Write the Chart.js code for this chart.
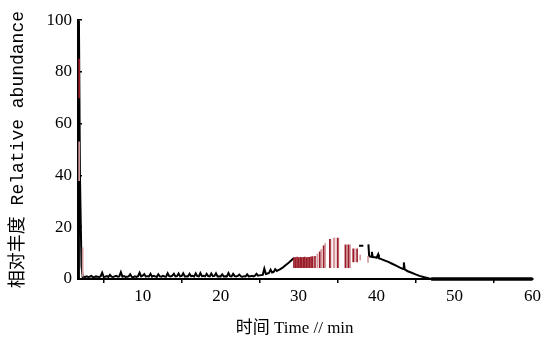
<!DOCTYPE html>
<html>
<head>
<meta charset="utf-8">
<script src="https://cdn.jsdelivr.net/npm/chart.js@4.4.0/dist/chart.umd.min.js"></script>
<style>
body{margin:0;background:#fff;}
#wrap{width:544px;height:339px;position:relative;}
</style>
</head>
<body>
<div id="wrap"><canvas id="chart1"></canvas></div>
<script>
//axis ticks//
const xTicks=[10,20,30,40,50,60];
const yTicks=[0,20,40,60,80,100];

//black TIC trace (null = gap)//
const traceTime=[1.78,1.82,1.95,2.05,2.15,2.3,
  2.4,2.6,2.8,3.0,3.2,3.4,3.6,3.8,4.0,4.2,4.4,4.6,4.8,5.0,5.2,5.4,5.6,5.8,6.0,6.2,6.4,6.6,6.8,7.0,
  7.2,7.4,7.6,7.8,8.0,8.2,8.4,8.6,8.8,9.0,9.2,9.4,9.6,9.8,10.0,10.2,10.4,10.6,10.8,11.0,
  11.2,11.4,11.6,11.8,12.0,12.2,12.4,12.6,12.8,13.0,13.2,13.4,13.6,13.8,14.0,14.2,14.4,14.6,14.8,15.0,
  15.2,15.4,15.6,15.8,16.0,16.2,16.4,16.6,16.8,17.0,17.2,17.4,17.6,17.8,18.0,18.2,18.4,18.6,18.8,19.0,
  19.2,19.4,19.6,19.8,20.0,20.2,20.4,20.6,20.8,21.0,21.2,21.4,21.6,21.8,22.0,22.2,22.4,22.6,22.8,23.0,
  23.2,23.4,23.6,23.8,24.0,24.2,24.4,24.6,24.8,25.0,25.2,25.4,25.6,25.8,26.0,26.2,26.4,26.6,26.8,27.0,
  27.2,27.4,27.6,27.8,28.0,28.2,28.4,28.6,28.8,29.0,29.2,29.4,29.5,
  37.75,38.3,38.5,
  38.95,39.05,39.3,39.4,39.5,39.8,40.0,40.2,40.3,40.6,41.0,41.5,42.0,42.5,43.0,43.4,43.5,43.6,44.0,44.5,45.0,45.5,46.0,46.5,47.0];
const traceAbund=[0,100,40,22,5,0.8,
  0.9,0.7,1.0,0.8,0.9,1.2,0.8,0.7,1.0,0.9,0.8,1.0,2.4,0.8,0.9,1.1,0.8,1.6,0.9,0.8,1.0,1.2,0.9,1.0,
  2.6,0.9,1.1,0.8,0.9,1.0,1.8,0.8,0.7,1.0,0.8,1.1,2.4,1.0,1.3,1.9,0.9,1.1,1.0,2.0,
  0.9,1.2,1.0,0.8,1.8,1.0,0.9,1.2,1.0,0.9,2.2,1.1,1.0,1.3,2.0,1.0,1.1,2.1,1.0,1.2,
  2.2,1.0,1.1,1.0,2.0,1.1,1.2,1.0,2.2,1.1,1.0,2.3,1.1,1.2,1.0,2.0,1.1,1.0,2.1,1.1,
  1.2,2.2,1.0,1.1,1.0,1.8,1.0,1.1,1.0,2.3,1.1,1.0,2.0,1.1,1.0,1.2,1.7,1.0,0.9,1.1,
  1.0,1.8,1.0,1.1,1.2,1.0,1.3,2.0,1.3,1.4,1.5,1.6,4.0,1.9,2.1,2.3,3.6,2.5,2.7,3.8,
  3.1,3.4,3.7,4.1,4.5,5.0,5.5,6.0,6.5,7.0,7.6,8.0,null,
  12.8,12.8,null,
  13.4,8.8,8.6,10.5,8.5,8.4,8.2,9.5,8.0,7.7,7.2,6.6,5.9,5.2,4.4,3.9,6.4,3.7,3.0,2.4,1.8,1.2,0.8,0.4,0];

//flat tail//
const tailTime=[47,60];
const tailAbund=[0,0];

//red ion bars (floating low-high)//
const darkTime=[1.85,29.4,29.6,29.8,30.0,30.2,30.4,30.6,30.8,31.0,31.2,31.4,31.6,31.8,32.1,32.7,33.2,34.0,35.0,36.0,36.4,37.0,37.5];
const darkLow=[70,4.4,4.4,4.4,4.4,4.4,4.4,4.4,4.4,4.4,4.4,4.4,4.4,4.4,4.4,4.4,4.4,4.4,4.4,4.4,4.4,6.6,6.6];
const darkHigh=[85,8.4,8.3,8.5,8.3,8.4,8.3,8.4,8.5,8.3,8.4,8.4,8.6,8.7,8.8,10.5,12.8,15.3,15.8,13.2,13.2,11.7,11.7];
const pinkTime=[1.85,2.3,32.4,32.9,33.4,34.1,34.5,34.6,35.1,36.2,36.6,37.2,37.9,38.9];
const pinkLow=[38,1,4.4,4.4,4.4,4.4,4.4,4.4,4.4,4.4,4.4,6.6,7.3,6.4];
const pinkHigh=[53,12,9.6,11.5,13.7,15.3,15.8,15.8,15.8,13.2,13.2,11.7,9.2,8.8];

function pts(xs,ys){ return xs.map((x,i)=>({x:x,y:ys[i]})); }
function bars(xs,lo,hi){ return xs.map((x,i)=>({x:x,y:[lo[i],hi[i]]})); }

const tickFont={family:"'Liberation Serif','Noto Sans CJK SC',serif",size:17};

let ctx1=document.getElementById("chart1").getContext("2d");
let chart1=new Chart(ctx1,{
  type:"line",
  data:{
    datasets:[
      {type:"bar",data:bars(darkTime,darkLow,darkHigh),backgroundColor:"#9a1c28",barThickness:1,grouped:false,borderWidth:0},
      {type:"bar",data:bars(pinkTime,pinkLow,pinkHigh),backgroundColor:"#d49aa0",barThickness:1,grouped:false,borderWidth:0},
      {data:pts(traceTime,traceAbund),borderColor:"#000",borderWidth:2,pointRadius:0,tension:0,spanGaps:false},
      {data:pts(tailTime,tailAbund),borderColor:"#000",borderWidth:3.5,pointRadius:0,clip:false}
    ]
  },
  options:{
    responsive:true,
    maintainAspectRatio:false,
    animation:false,
    layout:{padding:{left:0,right:11,top:16,bottom:0}},
    plugins:{legend:{display:false},tooltip:{enabled:false}},
    scales:{
      x:{
        type:"linear",min:1.7,max:60,offset:false,
        afterBuildTicks:(s)=>{ s.ticks=xTicks.map(v=>({value:v})); },
        afterFit:(s)=>{ s.height=60; },
        grid:{drawOnChartArea:false,drawTicks:true,tickLength:4,color:"#000",lineWidth:1.5},
        border:{display:true,color:"#000",width:2},
        ticks:{color:"#000",font:tickFont,padding:3,maxRotation:0,autoSkip:false},
        // trailing spaces nudge the centred title left like the original
        title:{display:true,text:"时间 Time // min     ",color:"#000",padding:{top:1,bottom:0},
          font:{family:"'Liberation Serif','Noto Sans CJK SC',serif",size:17}}
      },
      y:{
        min:0,max:100,
        afterBuildTicks:(s)=>{ s.ticks=yTicks.map(v=>({value:v})); },
        afterFit:(s)=>{ s.width=78; },
        grid:{drawOnChartArea:false,drawTicks:true,tickLength:-4,color:"#000",lineWidth:1.5},
        border:{display:true,color:"#000",width:2},
        ticks:{color:"#000",font:tickFont,padding:10},
        title:{display:true,text:"相对丰度 Relative abundance",color:"#000",padding:{top:7,bottom:0},
          font:{family:"'Liberation Mono','Noto Sans CJK SC',monospace",size:18}}
      }
    }
  }
});
</script>
</body>
</html>
